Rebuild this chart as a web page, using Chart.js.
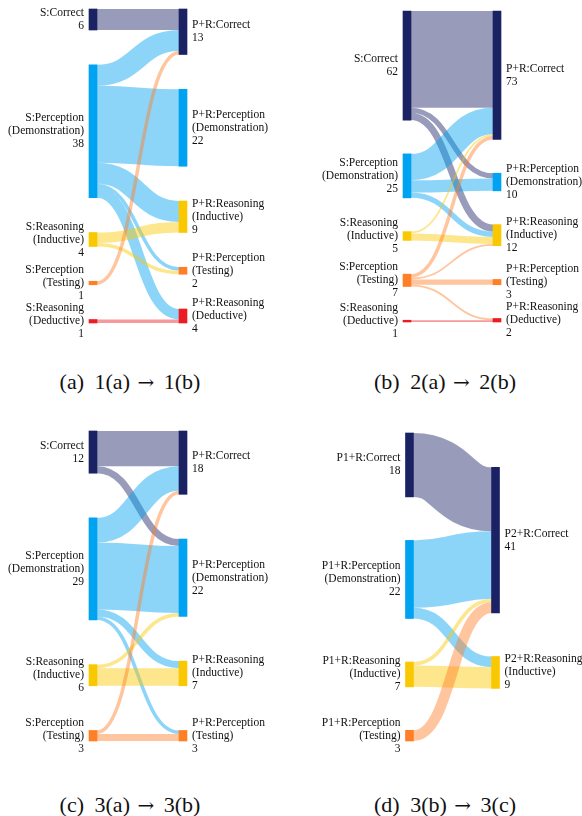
<!DOCTYPE html>
<html>
<head>
<meta charset="utf-8">
<script src="https://cdn.jsdelivr.net/npm/chart.js@4.4.1/dist/chart.umd.min.js"></script>
<style>
  html, body { margin: 0; padding: 0; background: #fff; }
  body { width: 582px; height: 816px; position: relative; overflow: hidden; }
  canvas.panel { position: absolute; }
  .caption {
    position: absolute;
    font-family: "Liberation Serif", "Times New Roman", serif;
    font-size: 22px;
    line-height: 24px;
    color: #111;
    white-space: nowrap;
    word-spacing: 5px;
    transform: translate(-50%, -50%);
  }
  .caption .arrow {
    font-family: "DejaVu Serif", serif;
    font-size: 20px;
    margin-left: -3px;
    margin-right: -1px;
  }
</style>
</head>
<body>
<script>
// Error categories shared by every diagram (node order, top to bottom)
const categories = ['Correct', 'Perception\n(Demonstration)', 'Reasoning\n(Inductive)', 'Perception\n(Testing)', 'Reasoning\n(Deductive)'];

// Transitions: [category before, category after, count]
const flows1a1b = [[0,0,6],[1,0,6],[1,1,22],[1,2,6],[1,3,1],[1,4,3],[2,2,3],[2,3,1],[3,0,1],[4,4,1]];
const flows2a2b = [[0,0,55],[0,1,3],[0,2,4],[1,0,15],[1,1,7],[1,2,3],[2,0,1],[2,2,4],[3,0,2],[3,2,1],[3,3,3],[3,4,1],[4,4,1]];
const flows3a3b = [[0,0,10],[0,1,2],[1,0,7],[1,1,19],[1,2,2],[1,3,1],[2,1,1],[2,2,5],[3,0,1],[3,3,2]];
const flows3b3c = [[0,0,18],[1,0,19],[1,2,3],[2,0,1],[2,2,6],[3,0,3]];

const sourcePrefixes = ['S:', 'S:', 'S:', 'P1+R:'];
const targetPrefixes = ['P+R:', 'P+R:', 'P+R:', 'P2+R:'];
// Caption parts: [panel tag + source stage, target stage]
const captionParts = [['(a) 1(a)', '1(b)'], ['(b) 2(a)', '2(b)'], ['(c) 3(a)', '3(b)'], ['(d) 3(b)', '3(c)']];

// Styling
const nodeColors = ['#1b2263', '#00a2f2', '#fac800', '#ff7f27', '#ec1c24'];
const linkAlpha = 0.45;
const nodeWidth = 8;
const labelFont = '11.5px "Liberation Serif", "Times New Roman", serif';
const labelLine = 13;

// Panel frames (page pixels): canvas box, node column centres, vertical extent, node gap
const frames = [
  { left: 0,   top: 0,   width: 291, height: 350, xL: 93,    xR: 183,   y0: 9,  y1: 323, pad: 34.75, capX: 130, capY: 382 },
  { left: 291, top: 0,   width: 291, height: 350, xL: 116,   xR: 206,   y0: 11, y1: 322, pad: 33.75, capX: 445, capY: 382 },
  { left: 0,   top: 420, width: 291, height: 350, xL: 93,    xR: 183,   y0: 11, y1: 321, pad: 44.7,  capX: 130, capY: 805 },
  { left: 291, top: 420, width: 291, height: 350, xL: 118.5, xR: 204.5, y0: 13, y1: 321, pad: 43.5,  capX: 445, capY: 805 }
];
const flowSets = [flows1a1b, flows2a2b, flows3a3b, flows3b3c];

function total(arr, f) { return arr.reduce((s, d) => s + f(d), 0); }

// Two-column sankey layout with iterative relaxation, positions in count units
function layoutSankey(flows, extentPx, padPx, iterations) {
  const cols = [[], []];
  const byCat = [{}, {}];
  for (let side = 0; side < 2; side++) {
    const cats = [...new Set(flows.map(f => f[side]))].sort((a, b) => a - b);
    cats.forEach(cat => {
      const n = { side, cat, out: [], inn: [], value: 0, y0: 0 };
      byCat[side][cat] = n;
      cols[side].push(n);
    });
  }
  const links = flows.map(([s, t, v]) => {
    const l = { source: byCat[0][s], target: byCat[1][t], value: v };
    l.source.out.push(l);
    l.target.inn.push(l);
    return l;
  });
  cols.forEach(c => c.forEach(n => {
    n.value = Math.max(total(n.out, l => l.value), total(n.inn, l => l.value));
  }));
  cols[0].forEach(n => {
    n.out.sort((a, b) => a.target.cat - b.target.cat);
    let o = 0; n.out.forEach(l => { l.sOff = o; o += l.value; });
  });
  cols[1].forEach(n => {
    n.inn.sort((a, b) => a.source.cat - b.source.cat);
    let o = 0; n.inn.forEach(l => { l.tOff = o; o += l.value; });
  });

  const ky = Math.min(...cols.map(c => (extentPx - (c.length - 1) * padPx) / total(c, n => n.value)));
  const pad = padPx / ky;
  const span = extentPx / ky;

  cols.forEach(c => c.forEach((n, i) => { n.y0 = i; }));

  // push overlapping nodes down, then back up if the column overflows
  function resolve(nodes) {
    let y = 0;
    nodes.forEach(n => {
      const dy = y - n.y0;
      if (dy > 0) n.y0 += dy;
      y = n.y0 + n.value + pad;
    });
    let dy = y - pad - span;
    if (dy > 0) {
      let n = nodes[nodes.length - 1];
      n.y0 -= dy;
      y = n.y0;
      for (let i = nodes.length - 2; i >= 0; --i) {
        n = nodes[i];
        dy = n.y0 + n.value + pad - y;
        if (dy > 0) n.y0 -= dy;
        y = n.y0;
      }
    }
  }
  cols.forEach(resolve);

  let alpha = 1;
  for (let it = 0; it < iterations; it++) {
    alpha *= 0.99;
    cols[0].forEach(n => {
      const w = total(n.out, l => l.value);
      if (!w) return;
      const y = total(n.out, l => (l.target.y0 + l.tOff - l.sOff) * l.value) / w;
      n.y0 += (y - n.y0) * alpha;
    });
    resolve(cols[0]);
    cols[1].forEach(n => {
      const w = total(n.inn, l => l.value);
      if (!w) return;
      const y = total(n.inn, l => (l.source.y0 + l.sOff - l.tOff) * l.value) / w;
      n.y0 += (y - n.y0) * alpha;
    });
    resolve(cols[1]);
  }
  return { nodes: cols[0].concat(cols[1]), links, span };
}

function withAlpha(hex, a) {
  const r = parseInt(hex.slice(1, 3), 16), g = parseInt(hex.slice(3, 5), 16), b = parseInt(hex.slice(5, 7), 16);
  return `rgba(${r},${g},${b},${a})`;
}

// Ribbons between the two node columns (stroked centre curves), drawn beneath the node bars
const linkPlugin = {
  id: 'sankeyLinks',
  beforeDatasetsDraw(chart) {
    const { ctx } = chart;
    const xs = chart.scales.x, ys = chart.scales.y;
    const g = chart.$sankey;
    const x0 = xs.getPixelForValue(0) + nodeWidth / 2;
    const x1 = xs.getPixelForValue(1) - nodeWidth / 2;
    const xm = (x0 + x1) / 2;
    ctx.save();
    ctx.lineCap = 'butt';
    g.links.forEach(l => {
      const sMid = ys.getPixelForValue(l.source.y0 + l.sOff + l.value / 2);
      const tMid = ys.getPixelForValue(l.target.y0 + l.tOff + l.value / 2);
      const w = Math.abs(ys.getPixelForValue(l.value) - ys.getPixelForValue(0));
      ctx.beginPath();
      ctx.moveTo(x0, sMid);
      ctx.bezierCurveTo(xm, sMid, xm, tMid, x1, tMid);
      ctx.lineWidth = w;
      ctx.strokeStyle = withAlpha(nodeColors[l.source.cat], linkAlpha);
      ctx.stroke();
    });
    ctx.restore();
  }
};

// Node names with their counts beside each bar
const labelPlugin = {
  id: 'sankeyLabels',
  afterDatasetsDraw(chart) {
    const { ctx } = chart;
    const xs = chart.scales.x, ys = chart.scales.y;
    const g = chart.$sankey;
    ctx.save();
    ctx.font = labelFont;
    ctx.fillStyle = '#111';
    ctx.textBaseline = 'middle';
    g.nodes.forEach(n => {
      const prefix = n.side === 0 ? g.srcPrefix : g.tgtPrefix;
      const parts = categories[n.cat].split('\n');
      const lines = [prefix + parts[0], ...parts.slice(1), String(n.value)];
      const cy = (ys.getPixelForValue(n.y0) + ys.getPixelForValue(n.y0 + n.value)) / 2;
      let x;
      if (n.side === 0) {
        ctx.textAlign = 'right';
        x = xs.getPixelForValue(0) - nodeWidth / 2 - 5;
      } else {
        ctx.textAlign = 'left';
        x = xs.getPixelForValue(1) + nodeWidth / 2 + 5;
      }
      const first = cy - (lines.length - 1) * labelLine / 2;
      lines.forEach((t, i) => ctx.fillText(t, x, first + i * labelLine));
    });
    ctx.restore();
  }
};

function buildPanels() {
  flowSets.forEach((flows, p) => {
    const f = frames[p];
    const g = layoutSankey(flows, f.y1 - f.y0, f.pad, 50);
    g.srcPrefix = sourcePrefixes[p];
    g.tgtPrefix = targetPrefixes[p];

    const canvas = document.createElement('canvas');
    canvas.className = 'panel';
    canvas.width = f.width;
    canvas.height = f.height;
    canvas.style.left = f.left + 'px';
    canvas.style.top = f.top + 'px';
    canvas.style.width = f.width + 'px';
    canvas.style.height = f.height + 'px';
    document.body.appendChild(canvas);

    new Chart(canvas, {
      type: 'bar',
      data: {
        datasets: [{
          data: g.nodes.map(n => ({ x: n.side, y: [n.y0, n.y0 + n.value] })),
          backgroundColor: g.nodes.map(n => nodeColors[n.cat]),
          borderWidth: 0,
          barThickness: nodeWidth,
          grouped: false,
          clip: false
        }]
      },
      options: {
        responsive: false,
        animation: false,
        events: [],
        devicePixelRatio: 1,
        layout: { padding: { left: f.xL, right: f.width - f.xR, top: f.y0, bottom: f.height - f.y1 } },
        scales: {
          x: { type: 'linear', min: 0, max: 1, offset: false, display: false },
          y: { type: 'linear', min: 0, max: g.span, reverse: true, display: false }
        },
        plugins: { legend: { display: false }, tooltip: { enabled: false } }
      },
      plugins: [{ id: 'sankeyData', beforeInit(c) { c.$sankey = g; } }, linkPlugin, labelPlugin]
    });
  });
}

// Sub-figure captions
captionParts.forEach((parts, p) => {
  const f = frames[p];
  const cap = document.createElement('div');
  cap.className = 'caption';
  cap.appendChild(document.createTextNode(parts[0] + ' '));
  const arrow = document.createElement('span');
  arrow.className = 'arrow';
  arrow.textContent = '\u2192';
  cap.appendChild(arrow);
  cap.appendChild(document.createTextNode(' ' + parts[1]));
  cap.style.left = f.capX + 'px';
  cap.style.top = f.capY + 'px';
  document.body.appendChild(cap);
});

if (document.fonts && document.fonts.load) {
  document.fonts.load(labelFont, 'S:Perception').then(buildPanels, buildPanels);
} else {
  buildPanels();
}
</script>
</body>
</html>
